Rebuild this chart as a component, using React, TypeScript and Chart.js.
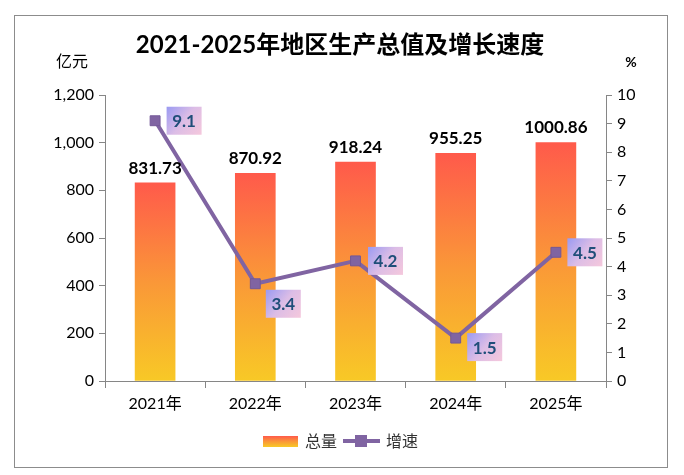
import React, { useEffect, useRef } from "react";
import { Chart, registerables } from "chart.js";

Chart.register(...registerables);

const years = ["2021年", "2022年", "2023年", "2024年", "2025年"];
const totals = [831.73, 870.92, 918.24, 955.25, 1000.86];
const growth = [9.1, 3.4, 4.2, 1.5, 4.5];

// where each growth label box sits relative to its point (px)
const growthLabelShift = [
  { dx: 29, dy: 0 },
  { dx: 28, dy: 20 },
  { dx: 30, dy: 0 },
  { dx: 29, dy: 9 },
  { dx: 29, dy: 0 },
];

const FONT = "Lato, 'Noto Sans CJK SC', sans-serif";
const AXIS = "#868686";
const PURPLE = "#8064A2";

const barGradient = (ctx: CanvasRenderingContext2D, top: number, bottom: number) => {
  const g = ctx.createLinearGradient(0, top, 0, bottom);
  g.addColorStop(0, "#FF5A4B");
  g.addColorStop(0.5, "#FA9738");
  g.addColorStop(1, "#F8C926");
  return g;
};

const decorPlugin = {
  id: "decor",
  beforeDraw(chart: any) {
    const ctx = chart.ctx as CanvasRenderingContext2D;
    ctx.save();
    ctx.fillStyle = "#fff";
    ctx.fillRect(0, 0, chart.width, chart.height);
    ctx.strokeStyle = "#8c8c8c";
    ctx.lineWidth = 1;
    ctx.strokeRect(14.5, 15.5, 653, 452);

    ctx.fillStyle = "#000";
    ctx.textAlign = "center";
    ctx.textBaseline = "middle";
    ctx.font = `bold 24px ${FONT}`;
    ctx.fillText("2021-2025年地区生产总值及增长速度", 340, 45);
    ctx.font = `16px ${FONT}`;
    ctx.fillText("亿元", 72, 62);
    ctx.font = `bold 14px ${FONT}`;
    ctx.fillText("%", 631, 62);

    // legend
    ctx.fillStyle = barGradient(ctx, 436, 447);
    ctx.fillRect(263, 436, 35, 11);
    ctx.fillStyle = "#333";
    ctx.font = `16px ${FONT}`;
    ctx.textAlign = "left";
    ctx.fillText("总量", 305, 442);
    ctx.strokeStyle = PURPLE;
    ctx.lineWidth = 4;
    ctx.beginPath();
    ctx.moveTo(343, 441);
    ctx.lineTo(380, 441);
    ctx.stroke();
    ctx.fillStyle = PURPLE;
    ctx.fillRect(355, 435, 12, 12);
    ctx.fillStyle = "#333";
    ctx.fillText("增速", 386, 442);
    ctx.restore();
  },
  afterDatasetsDraw(chart: any) {
    const ctx = chart.ctx as CanvasRenderingContext2D;
    ctx.save();
    ctx.textAlign = "center";
    ctx.textBaseline = "alphabetic";
    ctx.font = `bold 17px ${FONT}`;
    ctx.fillStyle = "#000";
    chart.getDatasetMeta(0).data.forEach((bar: any, i: number) => {
      ctx.fillText(totals[i].toFixed(2), bar.x, bar.y - 9);
    });

    ctx.textBaseline = "middle";
    chart.getDatasetMeta(1).data.forEach((pt: any, i: number) => {
      const cx = pt.x + growthLabelShift[i].dx;
      const cy = pt.y + growthLabelShift[i].dy;
      const w = 35;
      const h = 28;
      const g = ctx.createLinearGradient(cx - w / 2, cy - h / 2, cx + w / 2, cy + h / 2);
      g.addColorStop(0, "#9A9AF2");
      g.addColorStop(0.5, "#DCBDE6");
      g.addColorStop(1, "#F5C8DC");
      ctx.fillStyle = g;
      ctx.fillRect(cx - w / 2, cy - h / 2, w, h);
      ctx.fillStyle = "#1F4E79";
      ctx.fillText(growth[i].toFixed(1), cx, cy + 1);
    });
    ctx.restore();
  },
};

const App = () => {
  const canvasRef = useRef<HTMLCanvasElement | null>(null);
  const chartRef = useRef<Chart | null>(null);

  useEffect(() => {
    if (chartRef.current) chartRef.current.destroy();
    const ctx = canvasRef.current?.getContext("2d");
    if (!ctx) return;

    chartRef.current = new Chart(ctx, {
      type: "bar",
      data: {
        labels: years,
        datasets: [
          {
            type: "bar",
            label: "总量",
            data: totals,
            yAxisID: "y",
            order: 1,
            barThickness: 40,
            backgroundColor: (c: any) => {
              const chart = c.chart;
              const y = chart.scales?.y;
              if (!y || c.raw == null) return "#FA9738";
              const top = y.getPixelForValue(c.raw);
              const bottom = y.getPixelForValue(0);
              if (!isFinite(top) || !isFinite(bottom) || top === bottom) return "#FA9738";
              return barGradient(chart.ctx, top, bottom);
            },
          },
          {
            type: "line",
            label: "增速",
            data: growth,
            yAxisID: "y1",
            order: 0,
            borderColor: PURPLE,
            borderWidth: 4,
            pointStyle: "rect",
            pointRadius: 7,
            pointBackgroundColor: PURPLE,
            pointBorderColor: "#735897",
            pointBorderWidth: 1,
            tension: 0,
          },
        ],
      },
      options: {
        responsive: true,
        maintainAspectRatio: false,
        animation: false,
        layout: { padding: { top: 95, left: 0, right: 0, bottom: 0 } },
        plugins: {
          legend: { display: false },
          title: { display: false },
          tooltip: { enabled: false },
        },
        scales: {
          x: {
            offset: true,
            grid: { offset: true, drawOnChartArea: false, tickLength: 7, color: AXIS },
            border: { color: AXIS },
            ticks: { color: "#000", font: { family: FONT, size: 16 }, padding: 6 },
            afterFit: (s: any) => {
              s.height = 94;
            },
          },
          y: {
            position: "left",
            min: 0,
            max: 1200,
            grid: { drawOnChartArea: false, tickLength: 6, color: AXIS },
            border: { color: AXIS },
            ticks: { stepSize: 200, color: "#000", font: { family: FONT, size: 16 }, padding: 5 },
            afterFit: (s: any) => {
              s.width = 105;
            },
          },
          y1: {
            position: "right",
            min: 0,
            max: 10,
            grid: { drawOnChartArea: false, tickLength: 6, color: AXIS },
            border: { color: AXIS },
            ticks: { stepSize: 1, color: "#000", font: { family: FONT, size: 16 }, padding: 5 },
            afterFit: (s: any) => {
              s.width = 78;
            },
          },
        },
      },
      plugins: [decorPlugin],
    });

    return () => {
      if (chartRef.current) chartRef.current.destroy();
      chartRef.current = null;
    };
  }, []);

  return (
    <div style={{ position: "absolute", left: 0, top: 0, width: 684, height: 475 }}>
      <canvas ref={canvasRef}></canvas>
    </div>
  );
};

export default App;
